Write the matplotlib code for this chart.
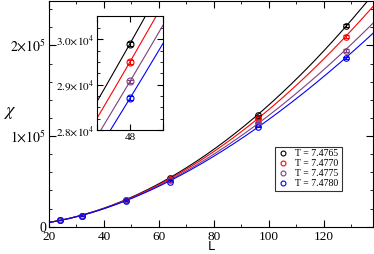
import numpy as np
import matplotlib
matplotlib.use("Agg")
import matplotlib.pyplot as plt
from matplotlib.ticker import MultipleLocator, FuncFormatter

plt.rcParams['font.family'] = ['Liberation Serif', 'DejaVu Serif']
plt.rcParams['mathtext.fontset'] = 'stix'

# data
L = np.array([24, 32, 48, 64, 96, 128])
temps = ['7.4765', '7.4770', '7.4775', '7.4780']
chi_74765 = [7.1e3, 1.23e4, 2.990e4, 5.34e4, 1.231e5, 2.216e5]
chi_74770 = [7.1e3, 1.22e4, 2.950e4, 5.24e4, 1.195e5, 2.098e5]
chi_74775 = [7.0e3, 1.21e4, 2.907e4, 5.12e4, 1.147e5, 1.944e5]
chi_74780 = [7.0e3, 1.20e4, 2.870e4, 4.98e4, 1.103e5, 1.860e5]
chi_err = [20, 40, 40, 150, 600, 1500]
colors = ['black', 'red', '#7f3f7f', 'blue']
series = [chi_74765, chi_74770, chi_74775, chi_74780]


def sci(v, pos, dec):
    if v == 0:
        return '0'
    e = int(np.floor(np.log10(abs(v))))
    m = v / 10**e
    if dec:
        return r'$%.1f{\times}10^{%d}$' % (m, e)
    return r'$%d{\times}10^{%d}$' % (round(m), e)


def loglog_fit(x, y, x_eval, i0=2):
    # quadratic in log-log, pinned to the point at index i0
    lx = np.log(x) - np.log(x[i0])
    ly = np.log(y) - np.log(y[i0])
    A = np.column_stack([lx, lx**2])
    c = np.linalg.lstsq(A, ly, rcond=None)[0]
    le = np.log(x_eval) - np.log(x[i0])
    return y[i0] * np.exp(c[0] * le + c[1] * le**2)


fig = plt.figure(figsize=(3.74, 2.54), dpi=100)
ax = fig.add_axes([0.131, 0.1075, 0.866, 0.8885])
ins = fig.add_axes([0.259, 0.488, 0.177, 0.449])

Lfit = np.linspace(18, 142, 400)
handles = []
for chi, c, t in zip(series, colors, temps):
    fit = loglog_fit(L, np.array(chi), Lfit)
    for a in (ax, ins):
        a.plot(Lfit, fit, color=c, lw=0.8)
        a.errorbar(L, chi, yerr=chi_err, fmt='o', mfc='none', mec=c, ecolor=c,
                   ms=4 if a is ax else 5, mew=0.8, elinewidth=0.8, capsize=2,
                   capthick=0.8)
    h, = ax.plot([], [], 'o', mfc='none', mec=c, ms=3.5, mew=0.8, label='T = ' + t)
    handles.append(h)

ax.set_xlim(20, 137.8)
ax.set_ylim(0, 2.49e5)
ax.xaxis.set_major_locator(MultipleLocator(20))
ax.xaxis.set_minor_locator(MultipleLocator(10))
ax.yaxis.set_major_locator(MultipleLocator(1e5))
ax.yaxis.set_minor_locator(MultipleLocator(2e4))
ax.yaxis.set_major_formatter(FuncFormatter(lambda v, p: sci(v, p, False)))
ax.tick_params(which='both', direction='in', top=True, right=True, labelsize=10, pad=2)
ax.tick_params(axis='x', pad=3, labelsize=9.5)
ax.tick_params(which='major', length=5)
ax.tick_params(which='minor', length=2.5)
ax.set_xlabel('L', family='DejaVu Sans', fontsize=9, va='bottom')
ax.xaxis.set_label_coords(0.5, -0.118)
ax.set_ylabel(r'$\chi$', fontsize=13, rotation=0)
ax.yaxis.set_label_coords(-0.12, 0.47)

leg = ax.legend(handles=handles, loc='upper left', bbox_to_anchor=(0.698, 0.355),
                fontsize=7, frameon=True, fancybox=False, handletextpad=0.8,
                borderpad=0.3, labelspacing=0.1, handlelength=1.0,
                borderaxespad=0)
leg.get_frame().set_edgecolor('black')
leg.get_frame().set_linewidth(0.8)

ins.set_xlim(47, 49)
ins.set_ylim(2.8e4, 3.051e4)
ins.xaxis.set_major_locator(MultipleLocator(1))
ins.xaxis.set_major_formatter(FuncFormatter(lambda v, p: '48' if v == 48 else ''))
ins.yaxis.set_major_locator(MultipleLocator(1e3))
ins.yaxis.set_minor_locator(MultipleLocator(250))
ins.yaxis.set_major_formatter(FuncFormatter(lambda v, p: sci(v, p, True)))
ins.tick_params(which='both', direction='in', top=True, right=True, labelsize=8, pad=2)
ins.tick_params(which='major', length=4)
ins.tick_params(which='minor', length=2)

fig.savefig('out.png', dpi=100)
